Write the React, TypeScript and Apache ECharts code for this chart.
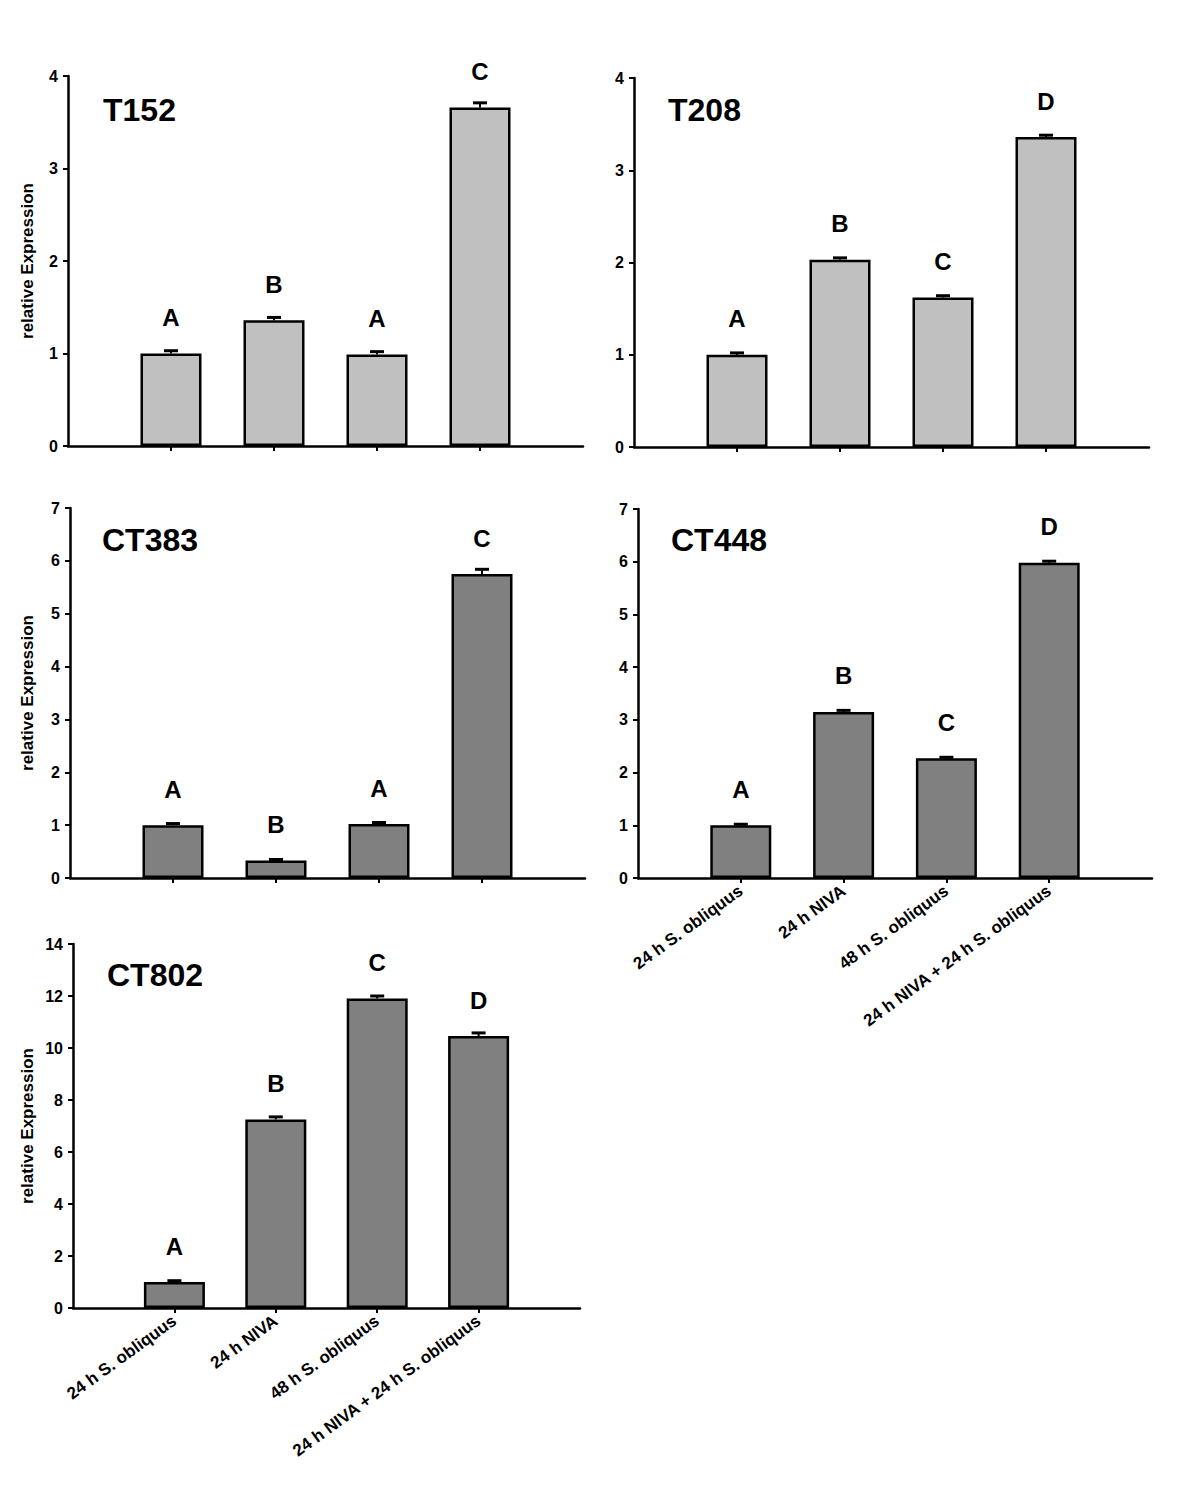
import React, { useEffect, useRef } from "react";
import * as echarts from "echarts";

const categories = ["24 h S. obliquus", "24 h NIVA", "48 h S. obliquus", "24 h NIVA + 24 h S. obliquus"];
const axisCategories = ["", ...categories, ""];

const panelNames = ["T152", "T208", "CT383", "CT448", "CT802"];

const t152Values = [1.0, 1.36, 0.99, 3.66];
const t152Errors = [0.03, 0.03, 0.03, 0.05];
const t152Letters = ["A", "B", "A", "C"];

const t208Values = [1.0, 2.03, 1.62, 3.36];
const t208Errors = [0.02, 0.02, 0.02, 0.02];
const t208Letters = ["A", "B", "C", "D"];

const ct383Values = [1.0, 0.33, 1.02, 5.75];
const ct383Errors = [0.03, 0.02, 0.03, 0.09];
const ct383Letters = ["A", "B", "A", "C"];

const ct448Values = [1.0, 3.15, 2.27, 5.98];
const ct448Errors = [0.02, 0.03, 0.02, 0.03];
const ct448Letters = ["A", "B", "C", "D"];

const ct802Values = [1.0, 7.25, 11.9, 10.46];
const ct802Errors = [0.05, 0.1, 0.1, 0.12];
const ct802Letters = ["A", "B", "C", "D"];

const yMaxes = [4, 4, 7, 7, 14];
const yIntervals = [1, 1, 1, 1, 2];
const yAxisTitle = "relative Expression";

const FONT = "'Liberation Sans', Arial, Helvetica, sans-serif";

export default function App() {
  const ref = useRef<HTMLDivElement>(null);

  useEffect(() => {
    if (!ref.current) return;
    const chart = echarts.init(ref.current, null, { renderer: "svg" });

    const panels = [
      { values: t152Values, errors: t152Errors, letters: t152Letters, color: "#c0c0c0", showX: false, showYName: true },
      { values: t208Values, errors: t208Errors, letters: t208Letters, color: "#c0c0c0", showX: false, showYName: false },
      { values: ct383Values, errors: ct383Errors, letters: ct383Letters, color: "#808080", showX: false, showYName: true },
      { values: ct448Values, errors: ct448Errors, letters: ct448Letters, color: "#808080", showX: true, showYName: false },
      { values: ct802Values, errors: ct802Errors, letters: ct802Letters, color: "#808080", showX: true, showYName: true },
    ];

    const grids = [
      { left: 68, top: 76, width: 515, height: 370 },
      { left: 634, top: 78, width: 515, height: 369 },
      { left: 70, top: 508, width: 515, height: 370 },
      { left: 638, top: 509, width: 514, height: 369 },
      { left: 73, top: 944, width: 507, height: 364 },
    ];

    const titlePos = [
      [103, 110],
      [668, 110],
      [102, 540],
      [671, 540],
      [107, 975],
    ];

    const xAxes = panels.map((p, i) => ({
      type: "category",
      gridIndex: i,
      data: axisCategories,
      boundaryGap: false,
      axisLine: { lineStyle: { color: "#000", width: 2.5 } },
      axisTick: {
        show: true,
        length: 5,
        interval: (idx: number) => idx >= 1 && idx <= 4,
        lineStyle: { color: "#000", width: 2 },
      },
      axisLabel: {
        show: p.showX,
        rotate: 36,
        interval: 0,
        margin: 11,
        color: "#000",
        fontWeight: "bold",
        fontSize: 17,
        fontFamily: FONT,
      },
      splitLine: { show: false },
    }));

    const yAxes = panels.map((p, i) => ({
      type: "value",
      gridIndex: i,
      min: 0,
      max: yMaxes[i],
      interval: yIntervals[i],
      axisLine: { show: true, lineStyle: { color: "#000", width: 2.5 } },
      axisTick: { show: true, length: 5, lineStyle: { color: "#000", width: 2 } },
      axisLabel: { color: "#000", fontWeight: "bold", fontSize: 16, fontFamily: FONT, margin: 10 },
      splitLine: { show: false },
    }));

    const series: any[] = [];
    panels.forEach((p, i) => {
      series.push({
        type: "bar",
        xAxisIndex: i,
        yAxisIndex: i,
        barWidth: 61,
        data: p.values.map((v, k) => [k + 1, v]),
        itemStyle: { color: p.color, borderColor: "#000", borderWidth: 2.5 },
        label: {
          show: true,
          position: "top",
          distance: 24,
          formatter: (params: any) => p.letters[params.dataIndex],
          color: "#000",
          fontWeight: "bold",
          fontSize: 24,
          fontFamily: FONT,
        },
        z: 2,
      });
      series.push({
        type: "custom",
        xAxisIndex: i,
        yAxisIndex: i,
        data: p.values.map((v, k) => [k + 1, v, p.errors[k]]),
        encode: { x: 0, y: 1 },
        z: 3,
        renderItem: (params: any, api: any) => {
          const x = api.value(0);
          const y = api.value(1);
          const e = api.value(2);
          const top = api.coord([x, y + e]);
          const base = api.coord([x, y]);
          return {
            type: "group",
            children: [
              {
                type: "line",
                shape: { x1: top[0], y1: top[1], x2: base[0], y2: base[1] },
                style: { stroke: "#000", lineWidth: 2 },
              },
              {
                type: "line",
                shape: { x1: top[0] - 7, y1: top[1], x2: top[0] + 7, y2: top[1] },
                style: { stroke: "#000", lineWidth: 3 },
              },
            ],
          };
        },
      });
    });

    const graphics: any[] = [];
    panelNames.forEach((name, i) => {
      graphics.push({
        type: "text",
        x: titlePos[i][0],
        y: titlePos[i][1],
        style: {
          text: name,
          fill: "#000",
          font: `bold 32px ${FONT}`,
          textAlign: "left",
          textVerticalAlign: "middle",
        },
      });
    });
    panels.forEach((p, i) => {
      if (!p.showYName) return;
      const g = grids[i];
      graphics.push({
        type: "text",
        x: 27,
        y: g.top + g.height / 2,
        rotation: Math.PI / 2,
        style: {
          text: yAxisTitle,
          fill: "#000",
          font: `bold 17px ${FONT}`,
          textAlign: "center",
          textVerticalAlign: "middle",
        },
      });
    });

    chart.setOption({
      animation: false,
      backgroundColor: "#fff",
      grid: grids,
      xAxis: xAxes,
      yAxis: yAxes,
      series,
      graphic: graphics,
    });

    return () => chart.dispose();
  }, []);

  return (
    <div
      ref={ref}
      style={{ position: "absolute", left: 0, top: 0, width: 1200, height: 1501, background: "#fff" }}
    />
  );
}
